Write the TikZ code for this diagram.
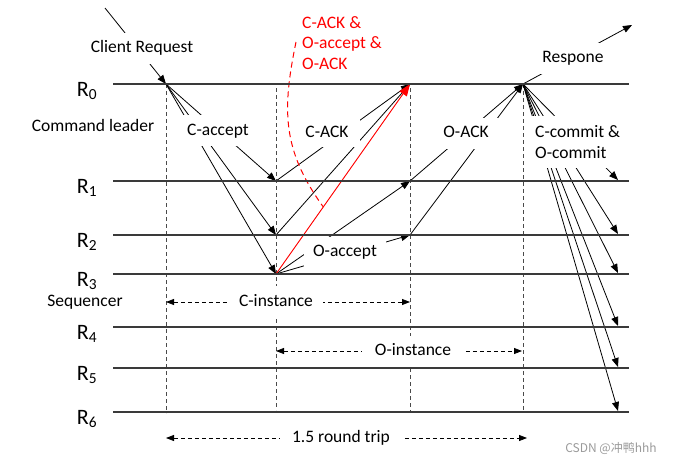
\documentclass[tikz,border=0pt]{standalone}
\usepackage{fontspec}
\setmainfont{Carlito}
\newfontfamily\cjkfont{Noto Sans CJK SC}
\usetikzlibrary{arrows.meta,calc}
\definecolor{tlLine}{HTML}{3A3A3A}
\definecolor{tlDash}{HTML}{4A4A4A}
\definecolor{tlRed}{HTML}{FF0000}
\definecolor{tlInk}{HTML}{000000}
\definecolor{tlMark}{HTML}{9A9A9A}
\tikzset{
  tlrow/.style={draw=tlLine,line width=1.1pt},
  tlcol/.style={draw=tlDash,line width=0.9pt,dash pattern=on 4pt off 3pt},
  tlmsg/.style={-{Triangle[length=9pt,width=7pt]},draw=tlInk,line width=0.8pt},
  tlhot/.style={-{Triangle[length=12pt,width=9pt]},draw=tlRed,fill=tlRed,line width=0.9pt},
  tlcallout/.style={draw=tlRed,line width=1pt,dash pattern=on 6pt off 4pt},
  tlspan/.style={{Triangle[length=8pt,width=6pt]}-{Triangle[length=8pt,width=6pt]},draw=tlInk,line width=0.8pt,dash pattern=on 4pt off 3pt},
  tllabel/.style={fill=white,text=tlInk,font=\fontsize{17.5}{20.5}\selectfont,inner xsep=6pt,inner ysep=7pt,text height=13pt,text depth=4pt},
  tlnote/.style={text=tlRed,font=\fontsize{17.5}{20.5}\selectfont,align=left,inner sep=0pt},
  tlrep/.style={text=tlInk,font=\fontsize{22}{24}\selectfont,inner sep=0pt},
  tlrole/.style={text=tlInk,font=\fontsize{17.5}{20.5}\selectfont,inner sep=0pt},
  tlmark/.style={text=tlMark,font=\cjkfont\fontsize{12}{14}\selectfont,inner sep=0pt}
}

\begin{document}
\begin{tikzpicture}[x=1pt,y=-1pt]
\useasboundingbox (0,0) rectangle (680,466);

% ---- REPLICAS ----
\node[tlrep] (rep0) at (87,91) {R\textsubscript{0}};
\node[tlrep] (rep1) at (87,188) {R\textsubscript{1}};
\node[tlrep] (rep2) at (87,242) {R\textsubscript{2}};
\node[tlrep] (rep3) at (87,281) {R\textsubscript{3}};
\node[tlrep] (rep4) at (87,334) {R\textsubscript{4}};
\node[tlrep] (rep5) at (87,375) {R\textsubscript{5}};
\node[tlrep] (rep6) at (87,419) {R\textsubscript{6}};
\node[tlrole] (leader) at (93,125) {Command leader};
\node[tlrole] (seq) at (85,302) {Sequencer};

% ---- PUNTOS DE LA LINEA DE TIEMPO ----
\coordinate (a0) at (166,84);  \coordinate (a6) at (166,413);
\coordinate (b0) at (276,88);  \coordinate (b1) at (276,181);
\coordinate (b2) at (276,235); \coordinate (b3) at (276,274);
\coordinate (b6) at (276,410);
\coordinate (c0) at (410,84);  \coordinate (c1) at (410,181);
\coordinate (c2) at (410,235); \coordinate (c6) at (410,412);
\coordinate (d0) at (523,84);  \coordinate (d6) at (523,412);
\coordinate (e1) at (618,180); \coordinate (e2) at (618,234);
\coordinate (e3) at (618,273); \coordinate (e4) at (618,326);
\coordinate (e5) at (618,367); \coordinate (e6) at (618,411);
\coordinate (cin) at (105,8);  \coordinate (rout) at (632,25);

% ---- GUIAS VERTICALES ----
\draw[tlcol] (a0) -- (a6);
\draw[tlcol] (b0) -- (b6);
\draw[tlcol] ($(c0)+(0,4)$) -- (c6);
\draw[tlcol] (d0) -- (d6);

% ---- MENSAJES ----
\draw[tlmsg] (cin) -- (a0);
\draw[tlmsg] (d0) -- (rout);
\draw[tlmsg] (a0) -- (b1);
\draw[tlmsg] (a0) -- (b2);
\draw[tlmsg] (a0) -- (b3);
\draw[tlmsg] (b1) -- (c0);
\draw[tlmsg] (b2) -- (c0);
\draw[tlmsg] (b3) -- (c1);
\draw[tlmsg] (b3) -- (c2);
\draw[tlmsg] (c1) -- (d0);
\draw[tlmsg] (c2) -- (d0);
\draw[tlmsg] (d0) -- (e1);
\draw[tlmsg] (d0) -- (e2);
\draw[tlmsg] (d0) -- (e3);
\draw[tlmsg] (d0) -- (e4);
\draw[tlmsg] (d0) -- (e5);
\draw[tlmsg] (d0) -- (e6);
\draw[tlhot] (b3) -- (c0);

% ---- NOTA ROJA ----
\node[tlnote, anchor=north west] (rnote) at (302,16) {C-ACK \&\\O-accept \&\\O-ACK};
\coordinate (rtop) at (296,42);
\coordinate (rhit) at ($(b3)!0.353!(c0)$);
\draw[tlcallout] (rtop) .. controls (282,110) and (282,150) .. (rhit);

% ---- ETIQUETAS ----
\node[tllabel] (creq) at (142,48) {Client Request};
\node[tllabel] (resp) at (573,58) {Respone};
\node[tllabel] (cacc) at (218,130.5) {C-accept};
\node[tllabel, inner ysep=5.5pt, minimum width=66pt] (cack) at (327,133) {C-ACK};
\node[tllabel, minimum width=64pt] (oack) at (466,133) {O-ACK};
\node[tllabel, minimum width=82pt] (oacc) at (345,252) {O-accept};
\node[tllabel, align=left, anchor=west, text height=, text depth=, minimum height=52pt] (comm) at (529,142) {C-commit \&\\O-commit};

% ---- INTERVALOS ----
\coordinate (ci-l) at (166,302); \coordinate (ci-r) at (410,302);
\coordinate (oi-l) at (276,351); \coordinate (oi-r) at (522,351);
\coordinate (rt-l) at (166,438); \coordinate (rt-r) at (527,438);
\draw[tlspan] (ci-l) -- (ci-r);
\draw[tlspan] (oi-l) -- (oi-r);
\draw[tlspan] (rt-l) -- (rt-r);
\node[tllabel, minimum width=93pt, minimum height=33pt] (cinst) at (276,302) {C-instance};
\node[tllabel, minimum width=103pt, minimum height=30pt] (oinst) at (413,351) {O-instance};
\node[tllabel, minimum width=123pt] (trip) at (341,438) {1.5 round trip};

% ---- LINEAS DE REPLICA ----
\coordinate (row0w) at (113,84);  \coordinate (row0e) at (629,84);
\coordinate (row1w) at (113,181); \coordinate (row1e) at (629,181);
\coordinate (row2w) at (113,235); \coordinate (row2e) at (629,235);
\coordinate (row3w) at (113,274); \coordinate (row3e) at (629,274);
\coordinate (row4w) at (113,327); \coordinate (row4e) at (629,327);
\coordinate (row5w) at (113,368); \coordinate (row5e) at (629,368);
\coordinate (row6w) at (113,412); \coordinate (row6e) at (629,412);
\draw[tlrow] (row0w) -- (row0e);
\draw[tlrow] (row1w) -- (row1e);
\draw[tlrow] (row2w) -- (row2e);
\draw[tlrow] (row3w) -- (row3e);
\draw[tlrow] (row4w) -- (row4e);
\draw[tlrow] (row5w) -- (row5e);
\draw[tlrow] (row6w) -- (row6e);

% ---- MARCA ----
\node[tlmark] (mark) at (611,448) {CSDN @冲鸭hhh};

\end{tikzpicture}
\end{document}
